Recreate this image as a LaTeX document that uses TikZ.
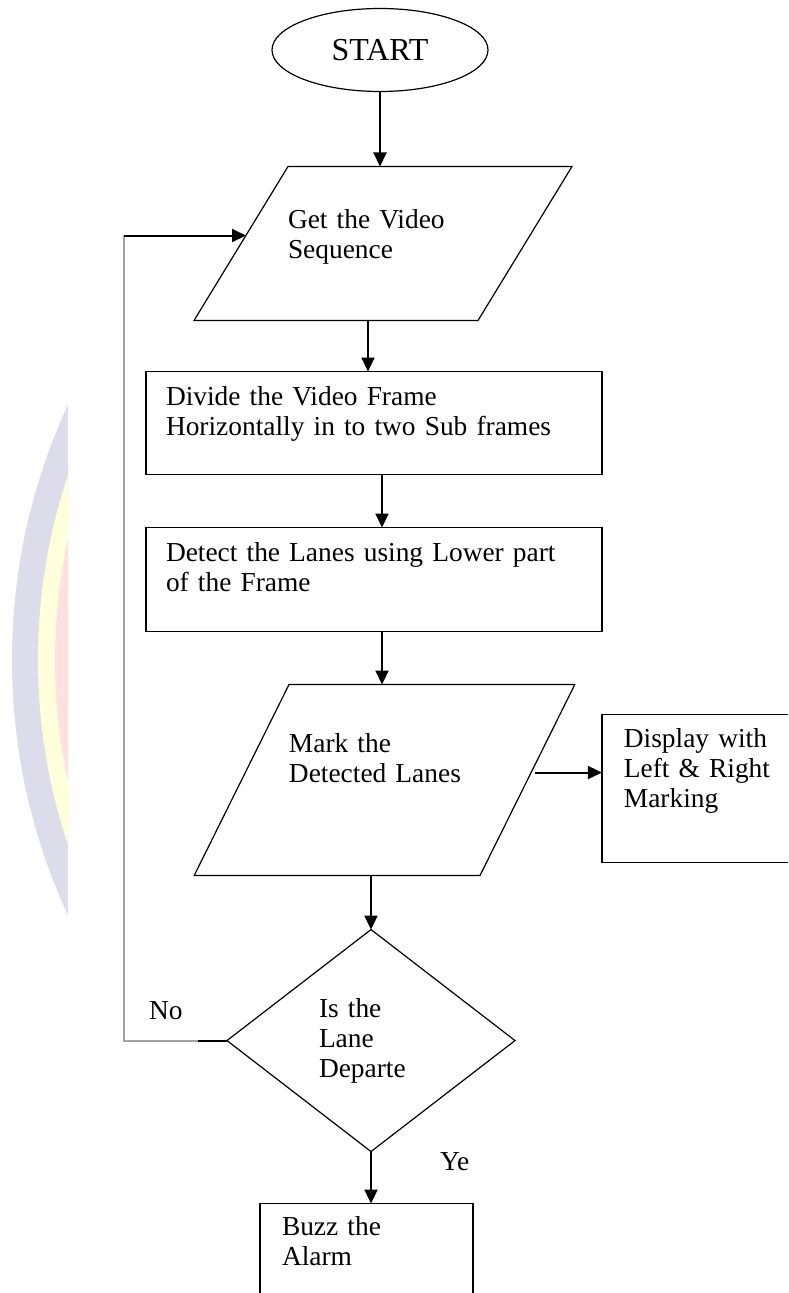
\documentclass[tikz,border=0pt]{standalone}
\usepackage{fontspec}
\setmainfont{Liberation Serif}
\usetikzlibrary{arrows.meta,positioning,shapes.geometric}
\definecolor{wmlilac}{HTML}{DCDCEB}
\definecolor{wmcream}{HTML}{FFFFDC}
\definecolor{wmrose}{HTML}{FFE1E1}
\definecolor{loopgray}{HTML}{A2A2A2}

\begin{document}
\begin{tikzpicture}[->,>={Triangle[width=6.5pt,length=7pt]},line width=1pt,
	every node/.style={font=\fontsize{13.7}{15}\selectfont,inner sep=0pt,outer sep=0pt},
	start node/.style={ellipse,draw,line width=0.6pt,minimum width=108pt,minimum height=41.5pt,font=\fontsize{16}{18}\selectfont},
	io node/.style={trapezium,draw,line width=0.6pt,align=left},
	step node/.style={rectangle,draw,line width=0.8pt,inner xsep=10pt,align=left},
	ask node/.style={diamond,draw,line width=0.6pt,minimum width=144pt,minimum height=111pt,text width=52pt,align=left},
	tag node/.style={anchor=base west}]
	\useasboundingbox (0,0) rectangle (394pt,-646.5pt);
	\clip (0,0) rectangle (394pt,-646.5pt);

	\begin{scope}[-]
		\clip (0,0) rectangle (34pt,-646.5pt);
		\fill[wmlilac] (310pt,-330pt) circle (304pt);
		\fill[wmcream] (310pt,-330pt) circle (291pt);
		\fill[wmrose] (310pt,-330pt) circle (282.5pt);
	\end{scope}

	\node[start node] (1) at (190pt,-25pt) {START};
	\node[io node,below=37.5pt of 1,xshift=1.5pt,text width=95pt,trapezium left angle=58.6,trapezium right angle=121.4,text height=31pt,text depth=46pt] (2) {Get the Video\\Sequence};
	\node[step node,below=25.5pt of 2,xshift=-4.5pt,text width=208pt,text height=17pt,text depth=34.5pt] (3) {Divide the Video Frame\\Horizontally in to two Sub frames};
	\node[step node,below=26.5pt of 3,text width=208pt,text height=17pt,text depth=35pt] (4) {Detect the Lanes using Lower part\\of the Frame};
	\node[io node,below=26.5pt of 4,xshift=5.25pt,text width=95.5pt,trapezium left angle=63.6,trapezium right angle=116.4,text height=34pt,text depth=61.5pt] (5) {Mark the\\Detected Lanes};
	\node[ask node,below=27pt of 5,xshift=-6.75pt] (6) {Is the\\Lane\\Departe};
	\node[step node,below=26pt of 6,xshift=-2.25pt,inner xsep=11pt,text width=84.5pt,text height=16pt,text depth=47.5pt] (7) {Buzz the\\Alarm};
	\node[step node,right=37.25pt of 5,yshift=-4.25pt,inner xsep=11pt,text width=82pt,text height=16.5pt,text depth=57.5pt] (8) {Display with\\Left \& Right\\Marking};
	\node[tag node] (9) at ([xshift=-39pt,yshift=10.5pt]6.west) {No};
	\node[tag node] (10) at ([xshift=34.5pt,yshift=-9.5pt]6.south) {Ye};

	\coordinate (t) at ([xshift=2.5pt,yshift=4pt]2.west);
	\coordinate (c1) at ([xshift=-51.5pt]6.west);

	\draw (1.south) -- (1.south |- 2.north);
	\draw ([xshift=-7.5pt]2.south) -- ++(0,-25.5pt);
	\draw ([xshift=4pt]3.south) -- ++(0,-26.5pt);
	\draw ([xshift=4pt]4.south) -- ++(0,-26.5pt);
	\draw (6.north |- 5.south) -- (6.north);
	\draw (6.south) -- (6.south |- 7.north);
	\draw ([xshift=4pt,yshift=3.75pt]5.east) -- ++(33.25pt,0);
	\draw[-,loopgray] (6.west) -- (c1) -- (c1 |- t);
	\draw[-] (6.west) -- ++(-14.5pt,0);
	\draw (c1 |- t) -- (t);
\end{tikzpicture}
\end{document}
